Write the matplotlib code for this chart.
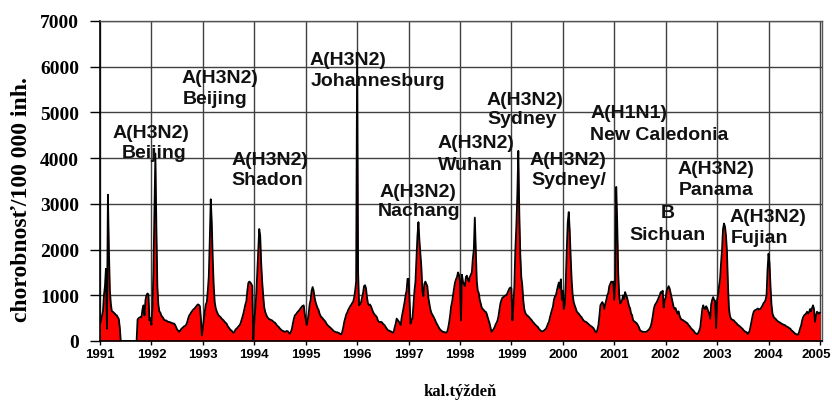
import numpy as np
import matplotlib
matplotlib.use('Agg')
import matplotlib.pyplot as plt
from matplotlib.transforms import ScaledTranslation

# ---------------- data (weekly morbidity per 100 000 inh.) ----------------
years = list(range(1991, 2006))

y1991 = [350, 450, 550, 650, 1000, 1200, 1580, 270, 3200, 2000, 1100, 800, 650, 640, 620, 600,
         570, 560, 520, 480, 300, 0,
         0, 0, 0, 0, 0, 0, 0, 0, 0, 0, 0, 0, 0, 0, 0, 0,
         470, 500, 510, 530, 525, 700, 780, 560, 900, 1000, 1040, 1020, 450, 500]
y1992 = [350, 700, 1500, 2800, 4100, 2500, 1200, 800, 650, 620, 560, 530, 500, 460, 450, 450,
         430, 420, 415, 410, 400, 390, 385, 380, 350, 300, 250, 230, 200, 220, 260, 280,
         300, 320, 330, 350, 400, 480, 550, 580, 620, 650, 680, 700, 720, 750, 780, 800,
         790, 760, 500, 120]
y1993 = [300, 500, 650, 800, 850, 1100, 1400, 2200, 3100, 2600, 1800, 1200, 850, 720, 650, 600,
         560, 540, 520, 490, 470, 450, 420, 400, 380, 330, 300, 270, 240, 230, 200, 180,
         200, 250, 270, 290, 320, 340, 380, 450, 520, 600, 700, 800, 870, 1100, 1270, 1300,
         1280, 1250, 1200, 20]
y1994 = [400, 700, 1000, 1500, 2000, 2450, 2300, 1700, 1300, 1000, 750, 640, 580, 530, 500, 480,
         470, 460, 450, 430, 410, 400, 370, 340, 320, 300, 270, 250, 230, 220, 210, 200,
         210, 220, 210, 180, 160, 200, 260, 380, 480, 560, 580, 610, 640, 660, 690, 720,
         750, 770, 780, 600]
y1995 = [480, 350, 450, 600, 800, 900, 1100, 1180, 1100, 950, 850, 780, 720, 680, 600, 550,
         520, 500, 470, 450, 420, 380, 350, 330, 310, 290, 270, 250, 220, 210, 200, 190,
         190, 180, 170, 150, 145, 200, 300, 420, 500, 580, 620, 680, 720, 760, 790, 830,
         860, 950, 1100, 1300]
y1996 = [6150, 1500, 780, 800, 850, 950, 1050, 1200, 1220, 1150, 950, 820, 780, 800, 760, 700,
         640, 600, 570, 550, 520, 450, 420, 410, 420, 410, 380, 360, 340, 300, 270, 240,
         230, 220, 210, 200, 180, 200, 300, 380, 490, 460, 430, 400, 350, 500, 620, 750,
         850, 1000, 1100, 1360]
y1997 = [1360, 900, 380, 450, 500, 800, 1100, 1300, 1800, 2300, 2600, 2200, 1900, 1600, 1100, 980,
         1250, 1300, 1250, 1200, 950, 820, 700, 620, 580, 540, 500, 450, 400, 360, 320, 280,
         250, 230, 210, 200, 195, 190, 180, 200, 280, 400, 550, 750, 850, 1000, 1150, 1280,
         1350, 1400, 1500, 1450]
y1998 = [1300, 450, 1450, 1300, 1250, 1200, 1400, 1430, 1350, 1300, 1400, 1450, 1500, 1800, 2000, 2700,
         2000, 1300, 1100, 1050, 900, 820, 730, 700, 680, 650, 640, 600, 520, 450, 380, 280,
         200, 230, 260, 300, 360, 400, 450, 550, 700, 830, 900, 950, 960, 980, 1000, 1000,
         1050, 1100, 1150, 1170]
y1999 = [1150, 450, 800, 1200, 2000, 2500, 3200, 4160, 2800, 1900, 1400, 1220, 900, 700, 620, 580,
         560, 540, 520, 490, 470, 440, 410, 390, 360, 340, 320, 300, 260, 240, 220, 210,
         215, 230, 250, 270, 320, 380, 420, 520, 600, 680, 750, 900, 970, 1000, 1100, 1200,
         1280, 1150, 1350, 900]
y2000 = [1100, 700, 800, 1300, 2000, 2600, 2820, 2400, 1800, 1300, 1000, 850, 780, 720, 650, 620,
         600, 570, 540, 520, 480, 450, 430, 420, 410, 390, 370, 350, 330, 320, 300, 280,
         240, 200, 190, 250, 350, 550, 780, 820, 850, 800, 700, 820, 900, 1000, 1050, 1200,
         1250, 1300, 1280, 1300]
y2001 = [900, 1300, 3370, 2600, 1500, 1000, 820, 850, 900, 1000, 920, 1070, 1000, 950, 850, 760,
         720, 600, 570, 460, 430, 420, 400, 380, 340, 300, 240, 220, 210, 200, 200, 200,
         200, 210, 230, 250, 280, 330, 420, 550, 700, 780, 820, 850, 900, 950, 1000, 1070,
         1050, 1100, 730, 900]
y2002 = [950, 1100, 1150, 1200, 1150, 1050, 950, 850, 750, 700, 720, 650, 600, 650, 560, 500,
         470, 460, 450, 430, 420, 400, 390, 350, 330, 300, 270, 250, 230, 200, 170, 160,
         150, 180, 230, 300, 500, 700, 780, 720, 700, 760, 720, 650, 600, 490, 800, 900,
         960, 900, 880, 280]
y2003 = [900, 1000, 1200, 1360, 1700, 2000, 2450, 2570, 2500, 2300, 1950, 1220, 710, 550, 490, 470,
         460, 450, 420, 400, 380, 350, 340, 320, 300, 280, 260, 230, 210, 200, 190, 150,
         180, 230, 340, 450, 560, 640, 670, 680, 690, 710, 700, 690, 710, 740, 780, 830,
         850, 900, 1000, 1550]
y2004 = [1910, 1700, 1200, 800, 600, 540, 500, 490, 460, 440, 420, 410, 400, 380, 370, 360,
         350, 340, 320, 310, 300, 280, 270, 240, 220, 200, 180, 160, 150, 140, 140, 200,
         280, 340, 450, 520, 560, 580, 600, 640, 600, 630, 700, 650, 720, 780, 700, 420,
         550, 640, 620, 600]
y2005 = [620]

# virus strain labels (two lines each) and their anchor (year, value) of each line
strain_top = ["A(H3N2)", "A(H3N2)", "A(H3N2)", "A(H3N2)", "A(H3N2)", "A(H3N2)",
              "A(H3N2)", "A(H3N2)", "A(H1N1)", "A(H3N2)", "B", "A(H3N2)"]
strain_bottom = ["Beijing", "Beijing", "Shadon", "Johannesburg", "Nachang", "Wuhan",
                 "Sydney", "Sydney/", "New Caledonia", "Panama", "Sichuan", "Fujian"]
top_pos = [(1991.24, 4460), (1992.59, 5665), (1993.56, 3870), (1995.08, 6060),
           (1996.44, 3170), (1997.57, 4240), (1998.52, 5185), (1999.36, 3870),
           (2000.53, 4900), (2002.24, 3675), (2001.91, 2710), (2003.25, 2620)]
bottom_pos = [(1991.42, 4020), (1992.60, 5205), (1993.56, 3430), (1995.10, 5600),
              (1996.41, 2755), (1997.57, 3760), (1998.54, 4770), (1999.38, 3430),
              (2000.53, 4415), (2002.26, 3215), (2001.29, 2225), (2003.27, 2160)]

# ---------------- build series ----------------
values = np.concatenate([y1991, y1992, y1993, y1994, y1995, y1996, y1997, y1998,
                         y1999, y2000, y2001, y2002, y2003, y2004, y2005]).astype(float)
xw = years[0] + np.arange(len(values)) / 52.0

# ---------------- figure ----------------
fig = plt.figure(figsize=(8.32, 4.02), dpi=100)
ax = fig.add_axes([100 / 832, 60 / 402, 722 / 832, 320 / 402])

ax.fill_between(xw, values, 0, color='#ff0000', lw=0, zorder=2)
ax.plot(xw, values, color='black', lw=1.3, zorder=3)

ax.set_xlim(1991, 2005.04)
ax.set_ylim(0, 7000)
ax.set_xticks(years)
ax.set_yticks(range(0, 7001, 1000))
ax.grid(True, color='#404040', lw=1.0)
ax.set_axisbelow(True)

for s in ['top', 'right']:
    ax.spines[s].set_color('#555555')
    ax.spines[s].set_linewidth(1.0)
for s in ['left', 'bottom']:
    ax.spines[s].set_color('black')
    ax.spines[s].set_linewidth(1.2)

ax.tick_params(axis='y', direction='out', length=7, width=1, pad=8, color='black')
ax.tick_params(axis='x', direction='out', length=3, width=1, pad=2, color='black')

for lab in ax.get_yticklabels():
    lab.set_fontfamily(['Liberation Serif', 'DejaVu Serif'])
    lab.set_fontweight('bold')
    lab.set_fontsize(14)
xlabs = ax.get_xticklabels()
for lab in xlabs:
    lab.set_fontfamily(['Liberation Sans', 'DejaVu Sans'])
    lab.set_fontweight('bold')
    lab.set_fontsize(9.5)
# keep the last year label inside the figure edge
xlabs[-1].set_transform(xlabs[-1].get_transform() +
                        ScaledTranslation(-4 / 100, 0, fig.dpi_scale_trans))

fig.text(22 / 832, 1 - 200 / 402, "chorobnosť/100 000 inh.", rotation=90,
         ha='center', va='center', fontsize=17, fontweight='bold',
         family=['Liberation Serif', 'DejaVu Serif'])
fig.text(460 / 832, 1 - 392 / 402, "kal.týždeň", ha='center', va='center',
         fontsize=12, fontweight='bold', family=['Liberation Serif', 'DejaVu Serif'])

for t, b, pt, pb in zip(strain_top, strain_bottom, top_pos, bottom_pos):
    ax.text(pt[0], pt[1], t, ha='left', va='baseline', fontsize=14, fontweight='bold',
            family=['Liberation Sans', 'DejaVu Sans'], color='#111111', zorder=4)
    ax.text(pb[0], pb[1], b, ha='left', va='baseline', fontsize=14, fontweight='bold',
            family=['Liberation Sans', 'DejaVu Sans'], color='#111111', zorder=4)

fig.savefig('out.png', dpi=100)
